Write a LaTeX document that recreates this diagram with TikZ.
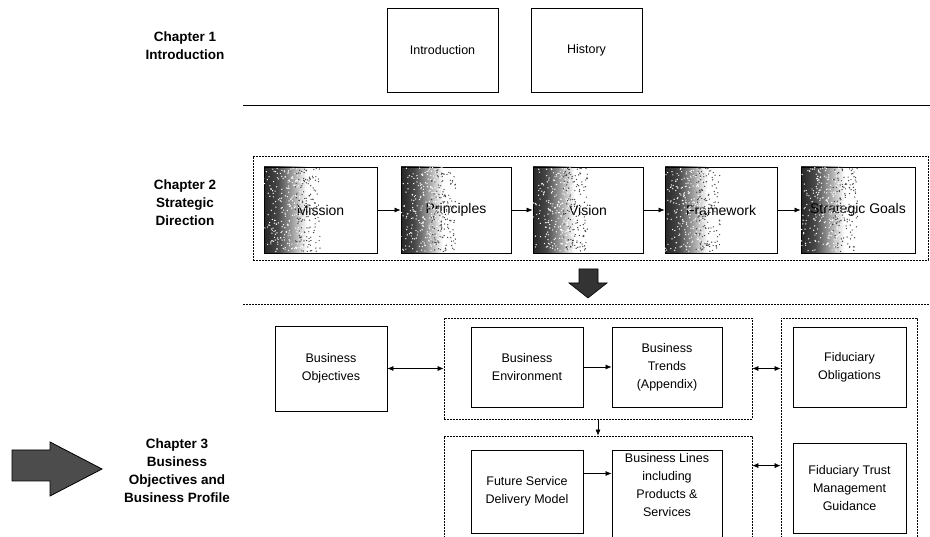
\documentclass[tikz,border=0pt]{standalone}
\usepackage{fontspec}
\setmainfont{Liberation Sans}
\usetikzlibrary{arrows.meta}
\pgfdeclarehorizontalshading{darkfade}{100bp}{color(0bp)=(black!85); color(25bp)=(black!85); color(31bp)=(black!72); color(37bp)=(black!40); color(44bp)=(white); color(100bp)=(white)}
\newcommand\noisify[3]{%
  \begin{scope}[shift={(#1.north west)}]
    \foreach \k in {1,...,260}{%
      \pgfmathsetmacro\xx{#2*0.40*rnd^0.7}%
      \pgfmathsetmacro\yy{1+(#3-2)*rnd}%
      \fill[white] (\xx,\yy) circle (0.7pt);}
    \foreach \k in {1,...,140}{%
      \pgfmathsetmacro\xx{#2*(0.28+0.22*rnd)}%
      \pgfmathsetmacro\yy{1+(#3-2)*rnd}%
      \fill[black!75] (\xx,\yy) circle (0.7pt);}
  \end{scope}}
\begin{document}
\begin{tikzpicture}[x=1pt,y=-1pt,
  box/.style={draw=black, line width=0.9pt, align=center, inner sep=2pt,
    font=\fontsize{12.5}{18}\selectfont},
  fadebox/.style={box, shading=darkfade, font=\fontsize{14}{17}\selectfont},
  grp/.style={draw=black, line width=0.8pt, dash pattern=on 1.6pt off 1.4pt, inner sep=0pt},
  chap/.style={align=center, font=\bfseries\fontsize{13.5}{18}\selectfont},
  sarr/.style={-{Latex[length=6pt,width=5pt]}, line width=0.6pt},
  darr/.style={{Latex[length=6pt,width=5pt]}-{Latex[length=6pt,width=5pt]}, line width=0.6pt}
]
\pgfmathsetseed{7}
\useasboundingbox (0,0) rectangle (930,537);
\fill[white] (0,0) rectangle (930,537);

% Chapter 1
\node[chap] (ch1) at (185,46) {Chapter 1\\Introduction};
\node[box, minimum width=111pt, minimum height=84pt] (intro) at (442.5,50) {Introduction};
\node[box, minimum width=111pt, minimum height=84pt] (hist) at (586.5,50) {History};
\draw[line width=1pt] (243,106) -- (930,106);

% Chapter 2
\node[chap] (ch2) at (185,203) {Chapter 2\\Strategic\\Direction};
\node[grp, minimum width=675pt, minimum height=104pt] (g2) at (590.5,208) {};
\node[fadebox, minimum width=113pt, minimum height=86pt] (mis) at (320.5,210) {Mission};
\node[fadebox, minimum width=110pt, minimum height=86pt] (pri) at (456,210) {Principles};
\node[fadebox, minimum width=110pt, minimum height=86pt] (vis) at (588,210) {Vision};
\node[fadebox, minimum width=112pt, minimum height=86pt] (fra) at (721,210) {Framework};
\node[fadebox, minimum width=114pt, minimum height=86pt] (sg) at (858,210) {Strategic Goals};
\noisify{mis}{113}{86}
\noisify{pri}{110}{86}
\noisify{vis}{110}{86}
\noisify{fra}{112}{86}
\noisify{sg}{114}{86}
\draw[sarr] (mis) -- (pri);
\draw[sarr] (pri) -- (vis);
\draw[sarr] (vis) -- (fra);
\draw[sarr] (fra) -- (sg);

% down block arrow
\draw[fill=black!80, line width=0.6pt] (579,269) -- (598,269) -- (598,283) -- (607,283) -- (588,298) -- (569,283) -- (579,283) -- cycle;
\draw[grp] (243,304) -- (930,304);

% Chapter 3
\node[chap] (ch3) at (177,471) {Chapter 3\\Business\\Objectives and\\Business Profile};
\draw[fill=black!70, line width=0.8pt] (12,450) -- (50,450) -- (50,442) -- (102,469) -- (50,496) -- (50,481) -- (12,481) -- cycle;

\node[box, minimum width=112pt, minimum height=85pt] (bo) at (331,368.5) {Business\\Objectives};
\node[grp, minimum width=308pt, minimum height=101pt] (g31) at (598,368.5) {};
\node[box, minimum width=112pt, minimum height=80pt] (be) at (527,367) {Business\\Environment};
\node[box, minimum width=110pt, minimum height=80pt] (bt) at (667,367) {Business\\Trends\\(Appendix)};
\node[grp, minimum width=308pt, minimum height=109pt] (g32) at (598,490.5) {};
\node[box, minimum width=112pt, minimum height=83pt] (fs) at (527,491.5) {Future Service\\Delivery Model};
\node[box, minimum width=110pt, minimum height=95pt] (bl) at (667,497.5) {Business Lines\\including\\Products \&\\Services\\[8pt]};
\node[grp, minimum width=136pt, minimum height=227pt] (gr) at (849,431.5) {};
\node[box, minimum width=113pt, minimum height=80pt] (fo) at (849.5,367) {Fiduciary\\Obligations};
\node[box, minimum width=113pt, minimum height=90pt] (ft) at (849.5,488) {Fiduciary Trust\\Management\\Guidance};

\draw[darr] (bo.east) -- (bo.east -| g31.west);
\draw[sarr] (be) -- (bt);
\draw[darr] (g31.east) -- (g31.east -| gr.west);
\draw[sarr] (g31.south) -- (g32.north);
\draw[darr] ([yshift=-30pt]g32.north east) -- ([yshift=-30pt]g32.north east -| gr.west);
\draw[sarr] ([yshift=18pt]fs.east) -- ([yshift=18pt]fs.east -| bl.west);
\end{tikzpicture}
\end{document}
